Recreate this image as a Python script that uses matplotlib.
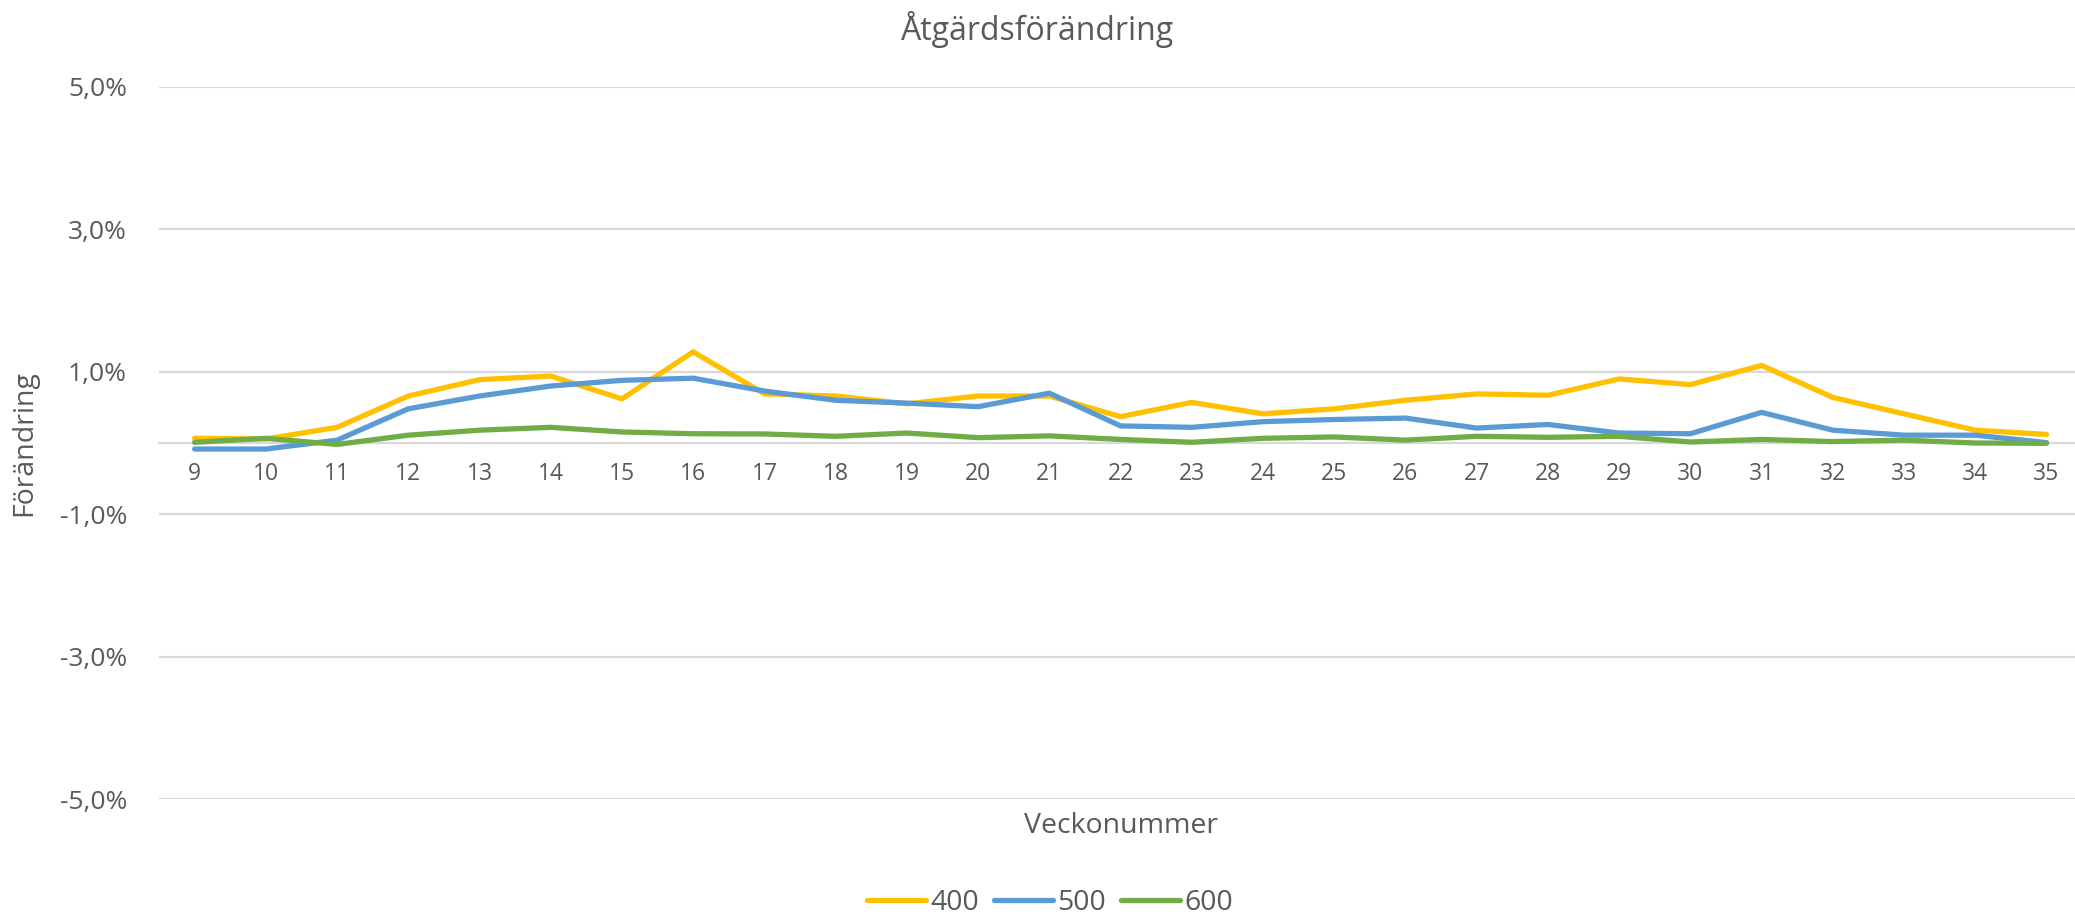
import matplotlib
matplotlib.use("Agg")
import matplotlib.pyplot as plt
from matplotlib.ticker import FixedLocator

plt.rcParams['font.family'] = ['Open Sans', 'DejaVu Sans']

weeks = list(range(9, 36))
s400 = [0.066, 0.056, 0.22, 0.66, 0.89, 0.94, 0.62, 1.28, 0.69, 0.66, 0.55, 0.66, 0.66,
        0.37, 0.57, 0.41, 0.48, 0.60, 0.69, 0.67, 0.90, 0.82, 1.09, 0.64, 0.41, 0.18, 0.12]
s500 = [-0.085, -0.085, 0.04, 0.48, 0.66, 0.80, 0.88, 0.91, 0.73, 0.60, 0.56, 0.51, 0.70,
        0.24, 0.22, 0.30, 0.33, 0.35, 0.21, 0.26, 0.14, 0.13, 0.43, 0.18, 0.11, 0.11, 0.005]
s600 = [0.01, 0.066, -0.02, 0.11, 0.18, 0.22, 0.155, 0.13, 0.127, 0.094, 0.14, 0.075, 0.10,
        0.05, 0.01, 0.066, 0.085, 0.04, 0.094, 0.08, 0.094, 0.014, 0.05, 0.02, 0.04, 0.0, -0.005]
series_names = ['400', '500', '600']
colors = ['#FFC000', '#5B9BD5', '#70AD47']
yticks = [-5, -3, -1, 1, 3, 5]
ytick_labels = ['-5,0%', '-3,0%', '-1,0%', '1,0%', '3,0%', '5,0%']
title = 'Åtgärdsförändring'
xlabel = 'Veckonummer'
ylabel = 'Förändring'

W, H = 2075, 916
fig = plt.figure(figsize=(W / 100, H / 100), dpi=100)
ax = fig.add_axes([159 / W, 1 - 799 / H, 1 - 159 / W, (799 - 87) / H])

text_color = '#595959'
grid_color = '#D9D9D9'

for yv in yticks:
    ax.axhline(yv, color=grid_color, lw=1.6, zorder=0)

for vals, name, c in zip([s400, s500, s600], series_names, colors):
    ax.plot(weeks, vals, color=c, lw=3.8, label=name, solid_capstyle='round',
            solid_joinstyle='miter', zorder=3)

ax.set_xlim(8.5, 35.4)
ax.set_ylim(-5, 5)
for sp in ['top', 'right', 'left']:
    ax.spines[sp].set_visible(False)
ax.spines['bottom'].set_position(('data', 0))
ax.spines['bottom'].set_color(grid_color)
ax.spines['bottom'].set_linewidth(1.6)
ax.spines['bottom'].set_zorder(1)

ax.set_xticks(weeks)
ax.set_xticklabels([str(w) for w in weeks])
ax.tick_params(axis='x', length=0, pad=14, labelsize=16.5, labelcolor=text_color)
ax.yaxis.set_major_locator(FixedLocator(yticks))
ax.set_yticklabels(ytick_labels)
ax.tick_params(axis='y', length=0, pad=23, labelsize=19, labelcolor=text_color)

fig.text(0.5, 1 - 29 / H, title, ha='center', va='center', fontsize=23, color=text_color)
fig.text(1121 / W, 1 - 826 / H, xlabel, ha='center', va='center', fontsize=20.5, color=text_color)
fig.text(24 / W, 1 - 443 / H, ylabel, ha='center', va='center', rotation=90,
         fontsize=20.5, color=text_color)

leg = fig.legend(loc='center', bbox_to_anchor=(1050 / W, 1 - 903 / H), ncol=3, frameon=False,
                 fontsize=20.5, handlelength=2.1, columnspacing=0.5, handletextpad=0.15,
                 labelcolor=text_color)

fig.savefig('out.png', dpi=100, facecolor='white')
